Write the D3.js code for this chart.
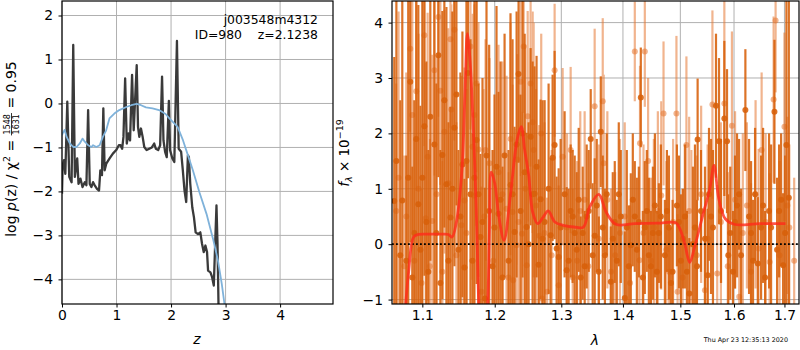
<!DOCTYPE html>
<html>
<head>
<meta charset="utf-8">
<script src="https://cdn.jsdelivr.net/npm/d3@7"></script>
<style>
body{margin:0;background:#fff;}
svg text{font-family:'DejaVu Sans',sans-serif;}
</style>
</head>
<body>
<script>
// ---- p(z) panel ----
var zGrid  = [0.0,0.012,0.036,0.061,0.097,0.133,0.176,0.206,0.236,0.279,0.303,0.339,0.376,0.418,0.448,0.479,0.509,0.539,0.570,0.600,0.642,0.679,0.703,0.733,0.758,0.782,0.812,0.873,0.933,0.994,1.042,1.073,1.103,1.127,1.158,1.188,1.218,1.248,1.285,1.315,1.370,1.394,1.418,1.448,1.479,1.509,1.552,1.600,1.648,1.691,1.721,1.764,1.800,1.835,1.861,1.891,1.921,1.960,1.982,2.024,2.060,2.108,2.140,2.185,2.216,2.247,2.278,2.309,2.327,2.352,2.389,2.420,2.451,2.494,2.537,2.568,2.599,2.630,2.660,2.679,2.722,2.753,2.784,2.809,2.833,2.852,2.870,2.885];
var logPz  = [-2.05,-1.40,-1.29,-1.60,0.04,-1.67,-1.79,1.33,-1.67,-1.25,-1.83,-1.71,-1.90,-1.79,-1.86,-0.15,-1.83,-1.90,-1.79,-1.86,-1.94,-1.98,-1.52,-1.63,-0.11,-1.52,-1.37,-1.25,-1.14,-1.06,-0.95,-0.95,-1.03,-0.76,0.57,-0.91,-0.68,-0.84,0.65,-0.61,0.87,-0.53,-0.76,-0.57,-0.76,-0.99,-1.06,-1.03,-1.00,-0.91,-1.03,-1.06,-0.95,0.61,-0.84,-1.10,-1.22,0.06,-1.06,-1.25,-1.33,1.42,-1.03,-1.10,-1.52,-1.98,-2.24,-1.18,-1.22,-1.82,-2.36,-2.59,-2.93,-2.97,-2.93,-3.19,-3.38,-3.23,-3.38,-3.80,-3.84,-3.95,-4.14,-3.19,-2.32,-3.19,-4.56,-6.0];
var zPrior   = [0.0,0.012,0.048,0.085,0.145,0.206,0.267,0.327,0.376,0.418,0.479,0.539,0.570,0.630,0.690,0.750,0.810,0.870,0.960,1.050,1.180,1.270,1.370,1.450,1.540,1.660,1.780,1.900,1.970,2.120,2.220,2.310,2.400,2.520,2.650,2.770,2.860,2.930,2.980,3.020];
var logPrior = [-0.72,-0.68,-0.60,-0.76,-0.91,-0.99,-0.99,-0.91,-0.80,-0.87,-0.95,-0.99,-0.95,-0.99,-0.95,-0.76,-0.61,-0.34,-0.23,-0.15,-0.08,-0.04,-0.01,-0.04,-0.09,-0.11,-0.15,-0.24,-0.34,-0.53,-0.84,-1.18,-1.52,-2.02,-2.51,-3.08,-3.57,-4.10,-4.56,-4.90];
var zTicks  = [0,1,2,3,4];
var pzTicks = [-4,-3,-2,-1,0,1,2];

// ---- spectrum panel (two spectra + model) ----
var lamA  = [1.0635,1.0738,1.0790,1.0842,1.0894,1.0947,1.1027,1.1080,1.1160,1.1214,1.1268,1.1323,1.1378,1.1432,1.1488,1.1543,1.1571,1.1620,1.1655,1.1740,1.1796,1.1860,1.1920,1.1997,1.2055,1.2113,1.2230,1.2290,1.2349,1.2440,1.2469,1.2529,1.2589,1.2650,1.2680,1.2711,1.2834,1.2865,1.2896,1.2927,1.2959,1.3084,1.3147,1.3211,1.3307,1.3403,1.3468,1.3533,1.3632,1.3700,1.3797,1.3863,1.3930,1.4031,1.4133,1.4201,1.4304,1.4373,1.4478,1.4548,1.4618,1.4760,1.4861,1.4974,1.5047,1.5163,1.5266,1.5315,1.5501,1.5563,1.5657,1.5714,1.5815,1.5866,1.5890,1.6019,1.6097,1.6220,1.6331,1.6464,1.6569,1.6729,1.6797,1.6891,1.6973,1.7040,1.7090,
	1.0662,1.0712,1.0815,1.0868,1.0920,1.0975,1.1000,1.1053,1.1106,1.1187,1.1241,1.1295,1.1350,1.1405,1.1460,1.1515,1.1599,1.1683,1.1711,1.1768,1.1825,1.1882,1.1968,1.2026,1.2084,1.2143,1.2201,1.2260,1.2320,1.2379,1.2409,1.2499,1.2559,1.2619,1.2742,1.2803,1.2990,1.3052,
	1.3115,1.3179,1.3243,1.3275,1.3339,1.3371,1.3436,1.3500,1.3566,1.3599,1.3664,1.3730,1.3830,1.3897,1.3964,1.4065,1.4099,1.4167,1.4236,1.4270,1.4339,1.4408,1.4443,1.4513,1.4583,1.4653,1.4724,1.4795,1.4831,1.4938,1.5010,1.5083,1.5119,1.5229,1.5303,1.5377,1.5451,1.5526,1.5600,1.5752,1.5928,1.5980,1.6058,1.6136,1.6292,1.6370,1.6410,1.6529,1.6609,1.6689,1.6850,1.6932,1.7014];
var fluxA = [0.78,0.79,-0.30,2.93,0.20,0.72,2.13,-0.50,1.80,3.41,1.61,1.08,0.48,2.10,-0.10,1.44,-0.42,3.09,0.90,1.88,0.13,-0.98,0.60,0.30,0.55,-0.60,1.07,0.22,3.07,1.30,0.31,1.94,0.91,-0.37,0.81,0.10,0.16,1.56,1.79,-0.08,-0.23,-0.47,0.60,0.20,-0.60,0.50,1.90,0.15,2.03,-0.20,-0.68,0.40,0.90,-0.97,-0.02,0.50,2.65,0.30,-0.40,0.70,0.20,0.60,-0.50,0.40,0.10,-0.89,0.30,1.89,-0.56,0.50,2.50,1.86,2.27,1.86,-0.20,0.40,0.90,2.42,0.20,-0.35,0.70,0.30,2.39,0.60,-0.38,1.79,0.84,
	1.5,-0.2,1.2,-0.6,1.9,-0.1,1.2,0.4,2.3,0.2,-0.7,2.6,-0.3,1.0,2.7,0.5,1.5,-0.3,1.2,0.9,0.4,1.6,-0.4,1.4,0.8,1.6,-0.3,0.9,1.8,0.6,2.0,0.0,0.9,1.4,0.4,1.0,0.3,0.9,
	-0.3,0.5,-0.1,0.8,0.2,-0.4,0.6,-0.2,0.7,-0.5,0.3,0.9,0.1,-0.3,0.5,0.3,-0.4,0.8,-0.1,0.4,-0.6,0.6,-0.2,0.2,-0.5,0.5,-0.2,0.3,-0.7,0.7,-0.3,0.5,-0.5,0.0,-0.4,0.6,0.1,0.9,0.3,0.6,0.2,-0.5,0.7,-0.2,0.5,-0.3,0.9,0.3,-0.6,0.6,-0.1,0.8,0.2];
var errA  = [2.6,3.8,1.9,2.9,2.4,3.6,2.7,2.2,3.3,2.2,2.6,3.2,2.0,2.5,1.8,2.4,1.6,1.9,2.8,2.6,1.5,2.0,3.0,2.4,2.2,2.0,3.1,1.9,1.6,2.5,1.7,1.6,2.3,1.9,1.8,2.5,1.4,1.5,1.7,1.3,1.6,1.5,1.2,1.4,1.1,1.3,0.9,1.4,1.0,1.2,1.0,1.1,1.3,1.2,1.3,1.0,0.9,1.2,1.0,1.3,0.9,1.1,1.3,1.2,0.9,1.0,1.5,1.1,1.2,1.4,1.3,1.5,1.4,1.3,1.1,1.2,1.0,1.1,1.3,1.2,1.4,1.5,1.3,1.2,1.3,3.0,3.8,
	3.2,2.8,3.5,2.0,3.0,2.6,3.4,2.9,2.6,2.7,2.4,2.3,2.5,3.2,2.0,2.6,2.9,2.3,3.3,2.0,2.6,2.8,2.1,2.9,2.5,2.2,2.0,2.8,2.4,2.1,2.6,2.2,2.4,2.0,2.2,1.9,1.6,1.5,
	1.3,1.2,1.4,1.3,1.2,1.0,1.1,1.3,1.2,1.0,1.3,1.1,1.2,1.1,1.2,1.4,1.1,1.2,1.3,1.0,1.2,1.1,1.4,1.2,1.1,1.3,1.0,1.3,1.0,1.1,1.2,1.3,1.1,1.4,1.2,1.1,1.3,1.2,1.4,1.3,1.2,1.1,1.3,1.2,1.4,1.1,1.2,1.3,1.2,1.4,1.3,1.2,1.4];

var lamB  = [1.0660,1.0765,1.0842,1.0868,1.0920,1.0990,1.1027,1.1045,1.1070,1.1133,1.1160,1.1214,1.1241,1.1295,1.1378,1.1390,1.1432,1.1530,1.1571,1.1655,1.1683,1.1700,1.1711,1.1740,1.1768,1.1810,1.1868,1.1925,1.2055,1.2172,1.2230,1.2260,1.2270,1.2320,1.2330,1.2380,1.2400,1.2425,1.2450,1.2470,1.2485,1.2529,1.2560,1.2575,1.2660,1.2690,1.2700,1.2780,1.2896,1.2959,1.3021,1.3147,1.3250,1.3370,1.3532,1.3664,1.3680,1.3800,1.3950,1.4201,1.4280,1.4290,1.4373,1.4430,1.4530,1.4660,1.4700,1.4800,1.4930,1.4950,1.5110,1.5200,1.5450,1.5590,1.5680,1.5815,1.5960,1.6100,1.6250,1.6480,1.6540,1.6700,1.6780,1.6820,1.7000,1.7100,
	1.0690,1.0790,1.0895,1.0950,1.1100,1.1190,1.1268,1.1350,1.1460,1.1600,1.1850,1.1980,1.2110,1.2200,1.2350,1.2610,1.2740,1.2850,1.3090,1.3180,1.3300,1.3430,1.3600,1.3740,1.3870,1.4030,1.4120,1.4350,1.4480,1.4600,1.4750,1.4870,1.5040,1.5160,1.5300,1.5380,1.5500,1.5750,1.5880,1.6020,1.6170,1.6330,1.6420,1.6620,1.6900,1.7060,1.7200];
var fluxB = [0.60,-0.40,3.53,2.33,2.76,-0.70,3.77,0.47,1.58,0.42,3.14,4.10,2.77,2.03,3.70,2.43,3.87,0.34,0.79,3.57,1.76,0.88,2.33,2.90,1.71,-0.86,1.70,1.46,1.30,0.64,1.90,0.58,-0.65,-0.02,1.53,2.93,0.19,3.57,1.00,-0.38,2.31,2.90,2.20,1.70,0.15,2.00,-0.98,-0.86,3.14,-0.74,1.58,1.70,-0.30,0.80,2.49,2.58,1.46,-0.50,0.20,3.48,-0.29,1.82,3.48,1.50,0.30,0.88,2.36,-0.50,2.36,-0.86,1.79,0.00,-0.83,2.52,-0.53,2.54,2.14,-0.95,0.70,-0.08,1.70,-0.32,2.61,4.04,2.12,0.30,
	1.2,0.5,-0.3,1.0,-0.4,0.9,-0.5,1.1,-0.2,0.2,0.5,-0.3,0.9,-0.6,0.4,0.7,0.2,-0.2,0.3,-0.6,0.6,-0.4,0.1,0.8,-0.2,0.5,-0.7,0.2,-0.3,0.6,-0.1,0.4,-0.6,0.6,-0.2,0.9,0.1,0.4,-0.4,0.8,0.2,-0.5,0.9,0.4,-0.2,0.7,-0.3];
var errB  = [2.3,2.0,1.5,2.1,1.8,1.7,2.0,2.8,2.6,3.0,1.9,1.8,1.7,2.2,1.6,1.9,2.0,2.7,2.4,1.5,2.4,2.2,2.0,1.6,2.3,1.9,2.0,1.9,2.3,2.4,2.1,2.3,1.8,2.1,1.9,1.7,2.2,1.2,2.6,1.8,1.9,1.5,2.0,2.3,2.0,1.8,1.5,1.7,1.2,1.8,1.6,1.5,1.8,1.6,1.4,1.5,1.6,1.5,1.7,0.9,1.6,1.4,1.0,1.5,1.6,1.7,1.3,1.5,1.4,1.4,1.6,1.7,1.5,1.7,1.6,1.9,1.7,1.6,1.5,1.8,1.4,1.6,1.5,1.3,1.7,1.5,
	3.0,2.6,2.2,2.8,2.3,2.5,2.0,2.8,2.4,2.6,2.3,2.0,2.4,1.9,2.3,2.1,2.0,1.9,1.7,1.6,1.8,1.5,1.7,1.6,1.5,1.7,1.4,1.6,1.5,1.8,1.6,1.5,1.6,1.7,1.8,1.6,1.7,1.8,1.7,1.6,1.8,1.6,1.7,1.6,1.7,1.6,1.5];

var lamModel  = [1.0760,1.0820,1.0886,1.0950,1.1100,1.1250,1.1350,1.1400,1.1460,1.1536,1.1580,1.1612,1.1650,1.1690,1.1720,1.1750,1.1770,1.1800,1.1850,1.1900,1.1925,1.1950,1.2000,1.2060,1.2135,1.2230,1.2330,1.2390,1.2440,1.2500,1.2560,1.2637,1.2720,1.2797,1.2900,1.3030,1.3200,1.3350,1.3450,1.3600,1.3720,1.3880,1.4200,1.4600,1.4920,1.4990,1.5080,1.5170,1.5260,1.5410,1.5540,1.5620,1.5710,1.5830,1.6000,1.6500,1.7020];
var fluxModel = [-1.50,-0.50,0.13,0.175,0.18,0.18,0.175,0.13,0.40,1.34,2.80,3.80,3.30,2.24,1.28,0.00,-1.04,-2.00,-2.00,-1.04,0.30,1.30,1.10,0.50,0.07,0.90,1.90,2.12,1.70,1.25,0.58,0.37,0.49,0.60,0.40,0.34,0.31,0.31,0.67,0.90,0.58,0.36,0.37,0.38,0.385,0.28,0.01,-0.33,-0.05,0.52,1.00,1.42,0.82,0.46,0.36,0.37,0.37];
var lamTicks = [1.1,1.2,1.3,1.4,1.5,1.6,1.7];
var fTicks   = [-1,0,1,2,3,4];

var width = 800, height = 350;
var svg = d3.select('body').append('svg').attr('width',width).attr('height',height);

var gridColor = '#b0b0b0', tickFont = '13.9px';

function frame(box, id){
	svg.append('clipPath').attr('id',id).append('rect')
		.attr('x',box.x0).attr('y',box.y0).attr('width',box.x1-box.x0).attr('height',box.y1-box.y0);
}
function grid(xs, ys, xt, yt, box){
	var g = svg.append('g').attr('stroke',gridColor).attr('stroke-width',1);
	xt.forEach(function(t){ g.append('line').attr('x1',xs(t)).attr('x2',xs(t)).attr('y1',box.y0).attr('y2',box.y1); });
	yt.forEach(function(t){ g.append('line').attr('x1',box.x0).attr('x2',box.x1).attr('y1',ys(t)).attr('y2',ys(t)); });
}
function axes(xs, ys, xt, yt, box, xfmt){
	var gx = svg.append('g').attr('transform','translate(0,'+box.y1+')')
		.call(d3.axisBottom(xs).tickValues(xt).tickSize(3.5).tickPadding(2.5).tickFormat(xfmt));
	var gy = svg.append('g').attr('transform','translate('+box.x0+',0)')
		.call(d3.axisLeft(ys).tickValues(yt).tickSize(3.5).tickPadding(5.5).tickFormat(d3.format('d')));
	[gx,gy].forEach(function(g){
		g.attr('font-size',tickFont).attr('font-family','DejaVu Sans');
		g.select('.domain').remove();
		g.selectAll('.tick line').attr('stroke','#000').attr('stroke-width',1);
		g.selectAll('.tick text').attr('fill','#000');
	});
	svg.append('rect').attr('x',box.x0).attr('y',box.y0).attr('width',box.x1-box.x0).attr('height',box.y1-box.y0)
		.attr('fill','none').attr('stroke','#000').attr('stroke-width',1.2);
}

// ---------- left: log p(z) ----------
var L = {x0:62, x1:333, y0:1, y1:304};
var xz = d3.scaleLinear().domain([0,4.97]).range([L.x0,L.x1]);
var yz = d3.scaleLinear().domain([-4.56,2.33]).range([L.y1,L.y0]);
frame(L,'clipL');
grid(xz, yz, zTicks, pzTicks, L);

var lineZ = d3.line().x(function(d){return xz(d[0]);}).y(function(d){return yz(d[1]);});
var pl = svg.append('g').attr('clip-path','url(#clipL)');
pl.append('path').attr('d',lineZ(d3.zip(zGrid,logPz)))
	.attr('fill','none').attr('stroke','#3a3a3a').attr('stroke-width',2.3).attr('stroke-linejoin','round');
pl.append('path').attr('d',lineZ(d3.zip(zPrior,logPrior)))
	.attr('fill','none').attr('stroke','#7fb2da').attr('stroke-width',1.8).attr('stroke-linejoin','round');

axes(xz, yz, zTicks, pzTicks, L, d3.format('d'));

svg.append('text').attr('x',318).attr('y',24).attr('text-anchor','end').attr('font-size','12.4px').text('j003548m4312');
svg.append('text').attr('x',318).attr('y',38.5).attr('text-anchor','end').attr('font-size','12.4px')
	.style('white-space','pre').text('ID=980    z=2.1238');

svg.append('text').attr('x',197).attr('y',344).attr('text-anchor','middle').attr('font-size','14px')
	.attr('font-style','italic').text('z');

// y label with a stacked fraction
var yl = svg.append('g').attr('transform','translate(16,149) rotate(-90)');
var t1 = yl.append('text').attr('font-size','14px').attr('x',0).attr('y',0);
t1.append('tspan').text('log ');
t1.append('tspan').attr('font-style','italic').text('p');
t1.append('tspan').text('(z) / \u03c7');
t1.append('tspan').attr('font-size','9.5px').attr('dy',-6).text('2');
t1.append('tspan').attr('dy',6).style('white-space','pre').text(' = ');
var w1 = t1.node().getComputedTextLength();
var num = yl.append('text').attr('font-size','8px').attr('text-anchor','middle').attr('y',-6.5).text('1548');
var den = yl.append('text').attr('font-size','8px').attr('text-anchor','middle').attr('y',3).text('1631');
var fw = Math.max(num.node().getComputedTextLength(), den.node().getComputedTextLength()) + 2;
num.attr('x',w1+fw/2); den.attr('x',w1+fw/2);
yl.append('line').attr('x1',w1).attr('x2',w1+fw).attr('y1',-4.5).attr('y2',-4.5).attr('stroke','#000').attr('stroke-width',0.8);
var t2 = yl.append('text').attr('font-size','14px').attr('x',w1+fw).attr('y',0).style('white-space','pre').text(' = 0.95');
var wt = w1 + fw + t2.node().getComputedTextLength();
yl.selectAll('text,line').attr('transform','translate('+(-wt/2)+',0)');

// ---------- right: spectrum ----------
var R = {x0:392, x1:799, y0:1, y1:304};
var xl = d3.scaleLog().domain([1.0606,1.730]).range([R.x0,R.x1]);
var yf = d3.scaleLinear().domain([-1.08,4.39]).range([R.y1,R.y0]);
frame(R,'clipR');
grid(xl, yf, lamTicks, fTicks, R);

var pr = svg.append('g').attr('clip-path','url(#clipR)');
function spectrum(lam, flux, err, color, op){
	var g = pr.append('g').attr('opacity',op);
	lam.forEach(function(l,i){
		g.append('line').attr('x1',xl(l)).attr('x2',xl(l))
			.attr('y1',yf(flux[i]-err[i])).attr('y2',yf(flux[i]+err[i]))
			.attr('stroke',color).attr('stroke-width',2.2);
	});
	var c = pr.append('g').attr('opacity',op);
	lam.forEach(function(l,i){
		c.append('circle').attr('cx',xl(l)).attr('cy',yf(flux[i])).attr('r',3).attr('fill',color);
	});
}
spectrum(lamB, fluxB, errB, '#e67832', 0.55);
spectrum(lamA, fluxA, errA, '#d8600a', 0.88);

pr.append('line').attr('x1',R.x0).attr('x2',R.x1).attr('y1',yf(0)).attr('y2',yf(0))
	.attr('stroke','#000').attr('stroke-width',1.8).attr('stroke-dasharray','1.8,2.2');

var lineM = d3.line().curve(d3.curveCatmullRom.alpha(0.5))
	.x(function(d){return xl(d[0]);}).y(function(d){return yf(d[1]);});
pr.append('path').attr('d',lineM(d3.zip(lamModel,fluxModel)))
	.attr('fill','none').attr('stroke','#ff2a1a').attr('stroke-opacity',0.8).attr('stroke-width',2.8);

axes(xl, yf, lamTicks, fTicks, R, d3.format('.1f'));

svg.append('text').attr('x',595).attr('y',345).attr('text-anchor','middle').attr('font-size','14px')
	.attr('font-style','italic').text('\u03bb');

var yr = svg.append('text').attr('transform','translate(349,153) rotate(-90)').attr('text-anchor','middle').attr('font-size','13.5px');
yr.append('tspan').attr('font-style','italic').text('f');
yr.append('tspan').attr('font-style','italic').attr('font-size','9.5px').attr('dy',3).text('\u03bb');
yr.append('tspan').attr('dy',-3).style('white-space','pre').text(' \u00d7 10');
yr.append('tspan').attr('font-size','9.5px').attr('dy',-6).text('\u221219');

svg.append('text').attr('x',788).attr('y',342).attr('text-anchor','end').attr('font-size','6.4px')
	.text('Thu Apr 23 12:35:13 2020');
</script>
</body>
</html>
